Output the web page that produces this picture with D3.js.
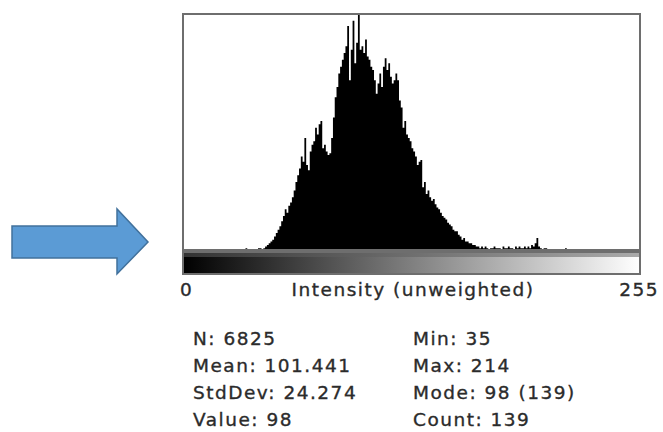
<!DOCTYPE html>
<html><head><meta charset="utf-8">
<script src="https://cdn.jsdelivr.net/npm/d3@7/dist/d3.min.js"></script>
<style>
html,body{margin:0;padding:0;background:#fff;}
svg{display:block;}
text{font-family:"DejaVu Sans",sans-serif;font-size:18.5px;letter-spacing:1.5px;fill:#2b2b2b;stroke:#2b2b2b;stroke-width:0.35px;}
</style></head>
<body>
<svg id="chart" width="663" height="432"></svg>
<script>
// histogram counts, bins 35..214 (intensity)
const firstBin = 35;
const counts = [
  1,0,0,0,0,0,0,1,1,0,1,2,3,
  4,5,6,8,10,12,14,17,
  20,24,22,26,28,31,35,40,
  44,48,55,52,66,50,47,58,
  62,64,72,68,74,76,60,62,
  58,56,57,66,78,90,96,104,
  108,112,116,120,132,100,118,135,
  110,122,139,118,120,116,124,114,
  112,108,106,100,92,98,104,96,
  108,113,106,110,102,98,100,104,
  100,88,84,72,76,68,66,64,
  60,58,55,50,52,53,37,40,
  33,35,31,29,30,27,25,24,
  22,20,19,18,16,15,14,12,
  11,11,9,8,6,7,5,5,
  4,4,3,3,2,2,1,2,
  1,2,1,0,1,1,2,1,
  1,1,0,2,1,1,2,1,
  1,0,2,1,2,1,1,2,
  1,2,1,3,2,4,7,2,
  1,0,1,1,0,0,0,0,
  0,0,0,0,0,0,1
];
const axisLabels = ["0", "Intensity (unweighted)", "255"];
const statsLeft = ["N: 6825", "Mean: 101.441", "StdDev: 24.274", "Value: 98"];
const statsRight = ["Min: 35", "Max: 214", "Mode: 98 (139)", "Count: 139"];

const svg = d3.select("#chart");
const L = 183, R = 640, T = 14, B = 250;
const x = d3.scaleLinear().domain([0, 256]).range([L, R]);
const y = d3.scaleLinear().domain([0, d3.max(counts)]).range([B, T]);

const bins = counts.map((c, i) => ({bin: firstBin + i, c}));
const stepData = bins.concat([{bin: firstBin + counts.length, c: 0}]);

// histogram as a step area
svg.append("path")
  .datum(stepData)
  .attr("d", d3.area().curve(d3.curveStepAfter)
    .x(d => x(d.bin)).y0(B).y1(d => y(d.c)))
  .attr("fill", "#000");

// frame
svg.append("rect").attr("x", L).attr("y", T).attr("width", R - L).attr("height", B - T)
  .attr("fill", "none").attr("stroke", "#6e6e6e").attr("stroke-width", 2);

// gradient bar
const defs = svg.append("defs");
const lg = defs.append("linearGradient").attr("id", "lut");
lg.append("stop").attr("offset", "0%").attr("stop-color", "#000");
lg.append("stop").attr("offset", "100%").attr("stop-color", "#fff");
const lg2 = defs.append("linearGradient").attr("id", "lut2");
lg2.append("stop").attr("offset", "0%").attr("stop-color", "#333");
lg2.append("stop").attr("offset", "100%").attr("stop-color", "#aaa");
svg.append("rect").attr("x", L).attr("y", 252).attr("width", R - L).attr("height", 22)
  .attr("fill", "url(#lut)").attr("stroke", "#6e6e6e").attr("stroke-width", 2);
svg.append("rect").attr("x", L + 1).attr("y", 253).attr("width", R - L - 2).attr("height", 4)
  .attr("fill", "url(#lut2)");

// axis labels
const axisY = 296;
svg.append("text").attr("x", x(0) - 3).attr("y", axisY).text(axisLabels[0]);
svg.append("text").attr("x", 413).attr("y", axisY).attr("text-anchor", "middle").text(axisLabels[1]);
svg.append("text").attr("x", 659).attr("y", axisY).attr("text-anchor", "end").text(axisLabels[2]);

// stats
const rowY = d3.scalePoint().domain(d3.range(4)).range([345, 426]);
svg.append("g").selectAll("text").data(statsLeft).join("text")
  .attr("x", 193).attr("y", (d, i) => rowY(i)).text(d => d);
svg.append("g").selectAll("text").data(statsRight).join("text")
  .attr("x", 413).attr("y", (d, i) => rowY(i)).text(d => d);

// blue arrow
svg.append("path")
  .attr("d", "M12,226 L117,226 L117,209 L148,242 L117,274 L117,258 L12,258 Z")
  .attr("fill", "#5b9bd5").attr("stroke", "#41719c").attr("stroke-width", 1.5);
</script>
</body></html>
